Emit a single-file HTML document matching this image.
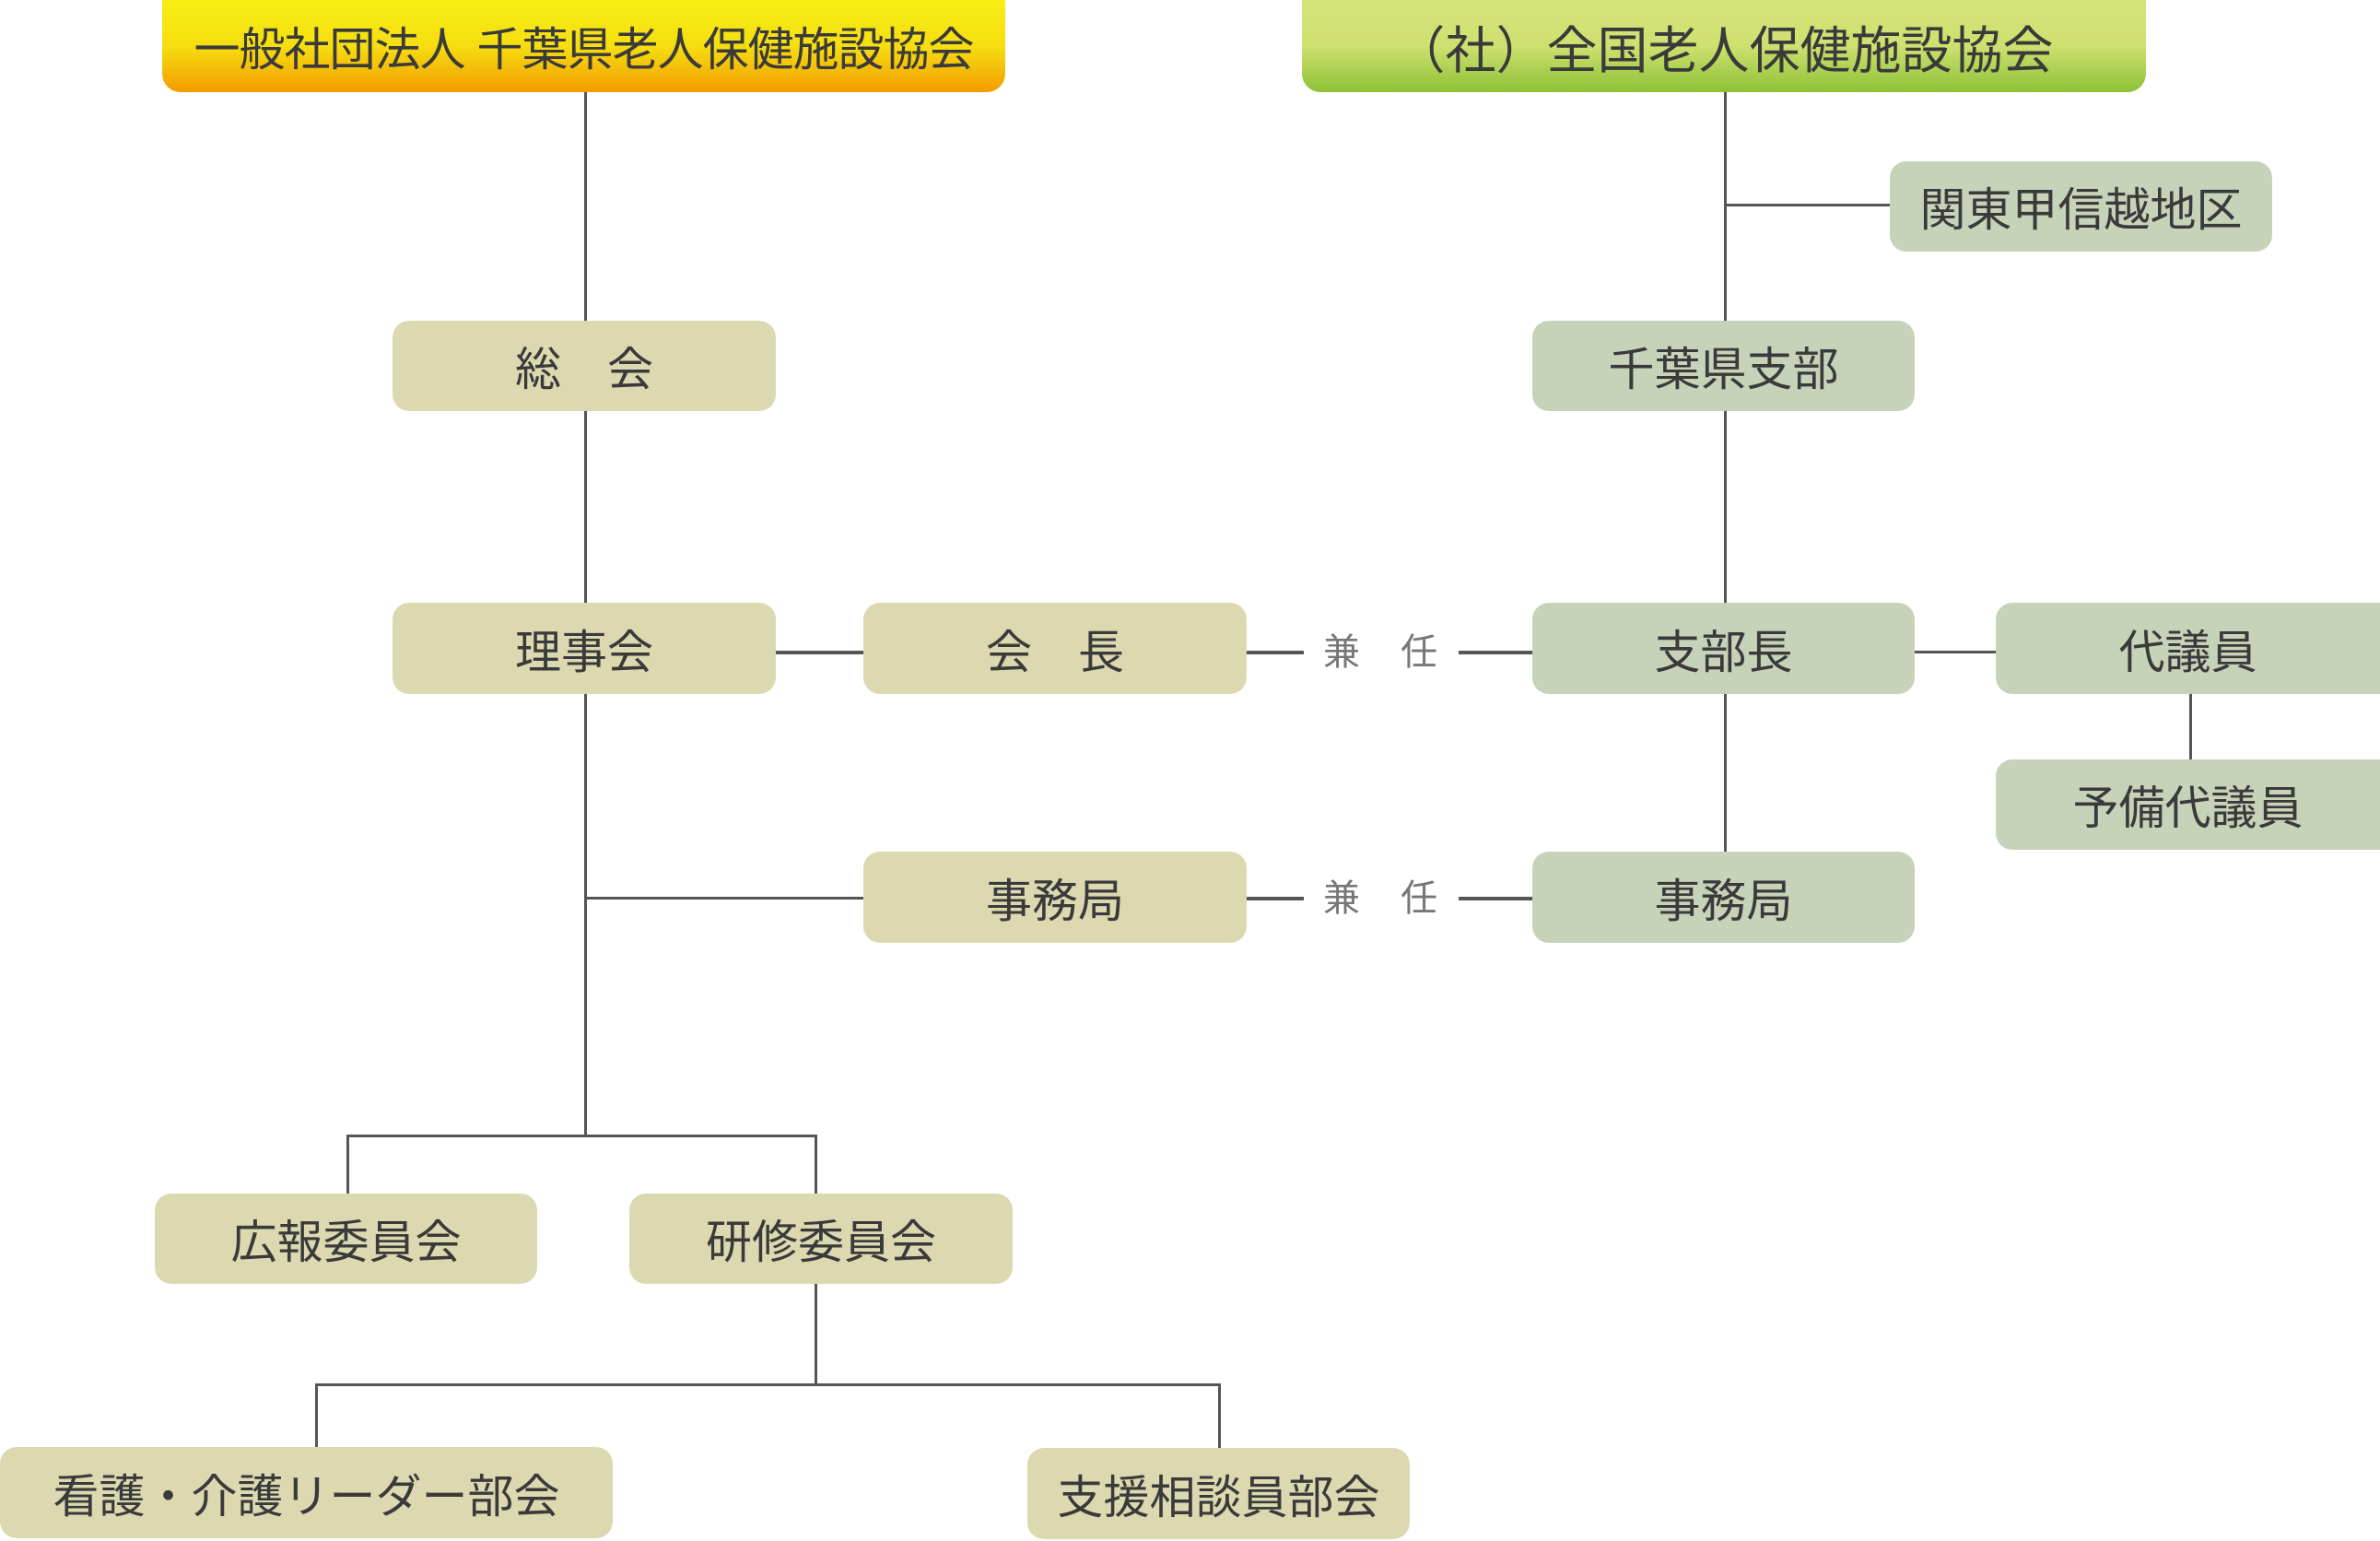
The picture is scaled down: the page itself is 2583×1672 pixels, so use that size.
<!DOCTYPE html>
<html><head><meta charset="utf-8"><style>
body{margin:0;width:2583px;height:1672px;background:#fff;position:relative;overflow:hidden;font-family:"Liberation Sans","Noto Sans CJK JP",sans-serif;}
.b{position:absolute;border-radius:18px;display:flex;align-items:center;justify-content:center;color:#3a3a3a;font-size:50px;white-space:pre;}
.y{background:#dcd9b1;}
.g{background:#c6d3b9;}
.l{position:absolute;background:#555;}
.t{position:absolute;color:#777;font-size:40px;line-height:40px;}
</style></head><body>
<div class="b" style="left:176px;top:0;width:915px;height:100px;border-radius:0 0 20px 20px;background:linear-gradient(#f7ee14 0%,#f6de10 50%,#f39c00 100%);font-size:50px;letter-spacing:-1px;">一般社団法人 千葉県老人保健施設協会</div>
<div class="b" style="left:1413px;top:0;width:916px;height:100px;border-radius:0 0 20px 20px;background:linear-gradient(#d5e37a 0%,#cfe070 50%,#8cc236 100%);font-size:55px;">（社）全国老人保健施設協会</div>

<div class="l" style="left:634px;top:100px;width:3px;height:248px"></div>
<div class="l" style="left:634px;top:446px;width:3px;height:208px"></div>
<div class="l" style="left:634px;top:753px;width:3px;height:479px"></div>
<div class="l" style="left:842px;top:706px;width:95px;height:4px"></div>
<div class="l" style="left:634px;top:973px;width:303px;height:3px"></div>
<div class="l" style="left:376px;top:1231px;width:511px;height:3px"></div>
<div class="l" style="left:376px;top:1231px;width:3px;height:64px"></div>
<div class="l" style="left:884px;top:1231px;width:3px;height:64px"></div>
<div class="l" style="left:884px;top:1393px;width:3px;height:110px"></div>
<div class="l" style="left:342px;top:1501px;width:983px;height:3px"></div>
<div class="l" style="left:342px;top:1501px;width:3px;height:69px"></div>
<div class="l" style="left:1322px;top:1501px;width:3px;height:70px"></div>

<div class="l" style="left:1871px;top:100px;width:3px;height:248px"></div>
<div class="l" style="left:1871px;top:221px;width:180px;height:3px"></div>
<div class="l" style="left:1871px;top:446px;width:3px;height:208px"></div>
<div class="l" style="left:1871px;top:753px;width:3px;height:171px"></div>
<div class="l" style="left:2078px;top:706px;width:88px;height:3px"></div>
<div class="l" style="left:2376px;top:753px;width:3px;height:71px"></div>

<div class="l" style="left:1353px;top:706px;width:62px;height:4px"></div>
<div class="l" style="left:1583px;top:706px;width:80px;height:4px"></div>
<div class="l" style="left:1353px;top:973px;width:62px;height:4px"></div>
<div class="l" style="left:1583px;top:973px;width:80px;height:4px"></div>
<div class="t" style="left:1436px;top:688px">兼</div>
<div class="t" style="left:1520px;top:688px">任</div>
<div class="t" style="left:1436px;top:955px">兼</div>
<div class="t" style="left:1520px;top:955px">任</div>

<div class="b y" style="left:426px;top:348px;width:416px;height:98px">総　会</div>
<div class="b y" style="left:426px;top:654px;width:416px;height:99px">理事会</div>
<div class="b y" style="left:937px;top:654px;width:416px;height:99px">会　長</div>
<div class="b y" style="left:937px;top:924px;width:416px;height:99px">事務局</div>
<div class="b y" style="left:168px;top:1295px;width:415px;height:98px">広報委員会</div>
<div class="b y" style="left:683px;top:1295px;width:416px;height:98px">研修委員会</div>
<div class="b y" style="left:0px;top:1570px;width:665px;height:99px">看護・介護リーダー部会</div>
<div class="b y" style="left:1115px;top:1571px;width:415px;height:99px">支援相談員部会</div>

<div class="b g" style="left:2051px;top:175px;width:415px;height:98px">関東甲信越地区</div>
<div class="b g" style="left:1663px;top:348px;width:415px;height:98px">千葉県支部</div>
<div class="b g" style="left:1663px;top:654px;width:415px;height:99px">支部長</div>
<div class="b g" style="left:2166px;top:654px;width:417px;height:99px;border-radius:18px 0 0 18px">代議員</div>
<div class="b g" style="left:2166px;top:824px;width:417px;height:98px;border-radius:18px 0 0 18px">予備代議員</div>
<div class="b g" style="left:1663px;top:924px;width:415px;height:99px">事務局</div>
</body></html>
